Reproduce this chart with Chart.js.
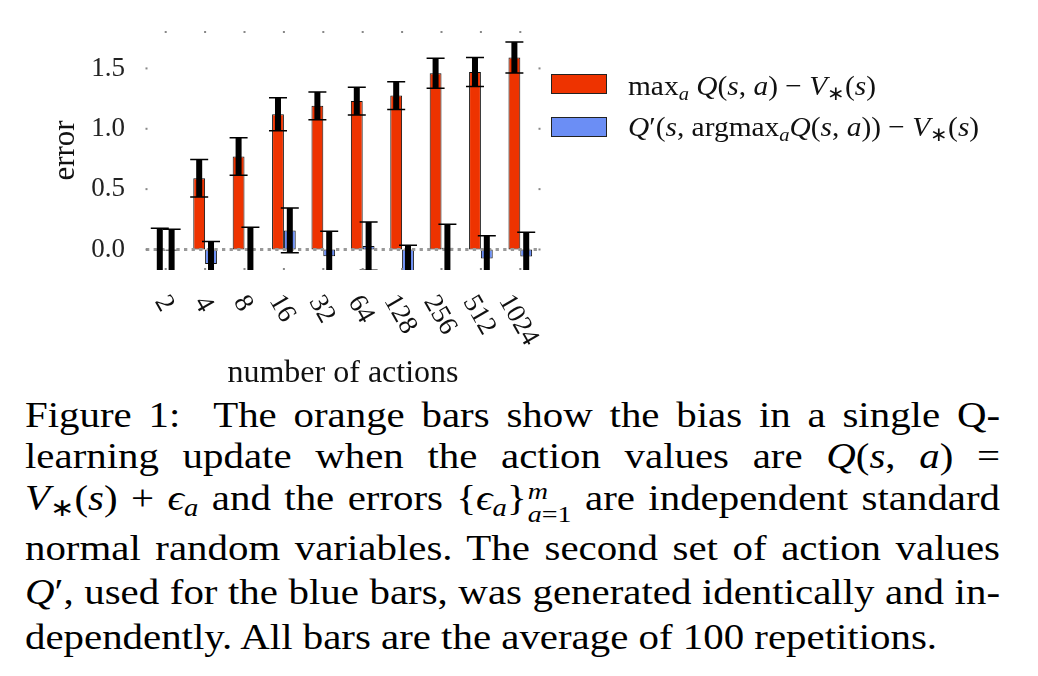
<!DOCTYPE html>
<html>
<head>
<meta charset="utf-8">
<script src="https://cdn.jsdelivr.net/npm/chart.js@4.4.1/dist/chart.umd.min.js"></script>
<style>
  html, body { margin:0; padding:0; background:#fff; width:1038px; height:676px; overflow:hidden; }
  #wrap { position:absolute; left:0; top:0; width:1038px; height:390px; }
  .leg { position:absolute; font-family:"Liberation Serif", serif; font-size:28px; color:#111; white-space:nowrap; line-height:30px; transform:scaleX(1.05); transform-origin:0 0; }
  .legbox { position:absolute; width:54px; height:18px; border:1px solid #222; }
  .cap { position:absolute; left:25px; width:835px; font-family:"Liberation Serif", serif; font-size:35px; line-height:40px; color:#000; white-space:nowrap; transform:scaleX(1.1677); transform-origin:0 0; }
  .just { text-align:justify; text-align-last:justify; white-space:normal; }
  .ss { display:inline-block; vertical-align:-12px; font-size:24px; line-height:23px; text-align:left; margin-left:1px; }
  .ss span { display:block; }
  sub { font-size:0.7em; vertical-align:-0.25em; line-height:0; }
</style>
</head>
<body>
<div id="wrap"><canvas id="c"></canvas></div>
<div id="legend"></div>

<div class="cap just" style="top:396px;">Figure 1:&nbsp; The orange bars show the bias in a single Q-</div>
<div class="cap just" style="top:437px;">learning update when the action values are <i>Q</i>(<i>s</i>, <i>a</i>) =</div>
<div class="cap just" style="top:479px;"><i>V</i><sub>∗</sub>(<i>s</i>) + <i>ϵ</i><sub><i>a</i></sub> and the errors {<i>ϵ</i><sub><i>a</i></sub>}<span class="ss"><span><i>m</i></span><span><i>a</i>=1</span></span> are independent standard</div>
<div class="cap just" style="top:529px;">normal random variables. The second set of action values</div>
<div class="cap just" style="top:573px;"><i>Q</i>′, used for the blue bars, was generated identically and in-</div>
<div class="cap" style="top:618px;">dependently. All bars are the average of 100 repetitions.</div>

<script>
// ---- data ----
const categories = ['2', '4', '8', '16', '32', '64', '128', '256', '512', '1024'];
const seriesNames = ['maxₐ Q(s, a) − V∗(s)', 'Q′(s, argmaxₐQ(s, a)) − V∗(s)'];
const maxQBias   = [-0.01, 0.59, 0.77, 1.12, 1.19, 1.23, 1.275, 1.46, 1.47, 1.59];
const maxQErr    = [0.185, 0.155, 0.155, 0.137, 0.115, 0.115, 0.115, 0.125, 0.12, 0.128];
const doubleBias = [-0.01, -0.12, -0.005, 0.158, -0.056, 0.028, -0.18, 0.015, -0.075, -0.058];
const doubleErr  = [0.177, 0.187, 0.19, 0.186, 0.206, 0.2, 0.215, 0.195, 0.189, 0.2];
const yTicks = [0.0, 0.5, 1.0, 1.5];
const errors = [maxQErr, doubleErr];

const orange = '#EE3300';
const blue = '#6B8EF5';

// HTML legend (math-formatted versions of the series names)
const legendHtml = [
  'max<sub><i>a</i></sub> <i>Q</i>(<i>s</i>, <i>a</i>) − <i>V</i><sub>∗</sub>(<i>s</i>)',
  '<i>Q</i>′(<i>s</i>, argmax<sub><i>a</i></sub><i>Q</i>(<i>s</i>, <i>a</i>)) − <i>V</i><sub>∗</sub>(<i>s</i>)'
];

Chart.defaults.font.family = '"Liberation Serif", serif';
Chart.defaults.color = '#222';

const decorPlugin = {
  id: 'decor',
  afterDatasetsDraw(chart) {
    const {ctx, chartArea: ca, scales: {x, y}} = chart;
    ctx.save();
    ctx.beginPath();
    ctx.rect(ca.left, ca.top, ca.right - ca.left, ca.bottom - ca.top);
    ctx.clip();
    // dotted zero line
    const y0 = y.getPixelForValue(0);
    ctx.strokeStyle = '#999';
    ctx.lineWidth = 3;
    ctx.setLineDash([3.3, 4.3]);
    ctx.beginPath();
    ctx.moveTo(ca.left, y0);
    ctx.lineTo(ca.right, y0);
    ctx.stroke();
    ctx.setLineDash([]);
    // error bars
    chart.data.datasets.forEach((ds, di) => {
      const meta = chart.getDatasetMeta(di);
      meta.data.forEach((bar, i) => {
        const v = ds.data[i], e = errors[di][i];
        const yt = y.getPixelForValue(v + e), yb = y.getPixelForValue(v - e);
        const bx = bar.x;
        ctx.fillStyle = '#000';
        ctx.fillRect(bx - 3, yt, 6, yb - yt);
        ctx.strokeStyle = '#000';
        ctx.lineWidth = 1.5;
        ctx.beginPath();
        ctx.moveTo(bx - 9, yt); ctx.lineTo(bx + 9, yt);
        ctx.moveTo(bx - 9, yb); ctx.lineTo(bx + 9, yb);
        ctx.stroke();
      });
    });
    ctx.restore();
  },
  afterDraw(chart) {
    const {ctx, chartArea: ca, scales: {x, y}} = chart;
    ctx.save();
    // small tick dots
    ctx.fillStyle = '#888';
    y.ticks.forEach((t, i) => {
      const py = y.getPixelForTick(i);
      ctx.fillRect(ca.left - 0.5, py - 1, 2, 2);
      ctx.fillRect(ca.right - 1.5, py - 1, 2, 2);
    });
    categories.forEach((c, i) => {
      const px = x.getPixelForTick(i);
      ctx.fillRect(px - 1, ca.top, 2, 2);
      ctx.fillRect(px - 1, ca.bottom - 2, 2, 2);
    });
    // rotated x tick labels (clockwise, centred under tick)
    const fs = 27;
    ctx.font = fs + 'px "Liberation Serif", serif';
    ctx.fillStyle = '#111';
    const ang = 60 * Math.PI / 180;
    const c = Math.cos(ang), s = Math.sin(ang);
    chart.data.labels.forEach((lab, i) => {
      const px = x.getPixelForTick(i);
      const m = ctx.measureText(lab);
      const w = m.actualBoundingBoxLeft + m.actualBoundingBoxRight;
      const h = m.actualBoundingBoxAscent + m.actualBoundingBoxDescent;
      const bh = w * s + h * c;
      const cy = ca.bottom + 23 + bh / 2;
      ctx.save();
      ctx.translate(px, cy);
      ctx.rotate(ang);
      ctx.textAlign = 'left';
      ctx.textBaseline = 'alphabetic';
      const ox = -(m.actualBoundingBoxRight - m.actualBoundingBoxLeft) / 2;
      const oy = (m.actualBoundingBoxAscent - m.actualBoundingBoxDescent) / 2;
      ctx.fillText(lab, ox, oy);
      ctx.restore();
    });
    ctx.restore();
  }
};

const chart = new Chart(document.getElementById('c'), {
  type: 'bar',
  data: {
    labels: categories,
    datasets: [
      { label: seriesNames[0], data: maxQBias, backgroundColor: orange, borderColor: '#111', borderWidth: 1, borderSkipped: false },
      { label: seriesNames[1], data: doubleBias, backgroundColor: blue, borderColor: '#111', borderWidth: 1, borderSkipped: false }
    ]
  },
  options: {
    responsive: true,
    maintainAspectRatio: false,
    animation: false,
    devicePixelRatio: 1,
    layout: { padding: { left: 0, top: 31, right: 498, bottom: 0 } },
    datasets: { bar: { categoryPercentage: 0.6, barPercentage: 1.0 } },
    plugins: { legend: { display: false }, tooltip: { enabled: false } },
    scales: {
      x: {
        grid: { display: false },
        border: { display: false },
        ticks: { display: false },
        title: { display: true, text: 'number of actions', color: '#111',
                 font: { size: 32, lineHeight: 1.0 }, padding: { top: 0, bottom: 0 } },
        afterFit: (s) => { s.height = 120; s.paddingLeft = 0; s.paddingRight = 0; }
      },
      y: {
        min: -0.17,
        max: 1.81,
        grid: { display: false, drawTicks: false },
        border: { display: false },
        afterBuildTicks: (s) => { s.ticks = yTicks.map(v => ({ value: v })); },
        ticks: { padding: 21, color: '#222', font: { size: 27 },
                 callback: (v) => Number(v).toFixed(1) },
        title: { display: true, text: 'error', color: '#111',
                 font: { size: 31, lineHeight: 1.0 }, padding: { top: 50, bottom: 0 } },
        afterFit: (s) => { s.width = 146; s.paddingTop = 0; s.paddingBottom = 0; }
      }
    }
  },
  plugins: [decorPlugin]
});

// build legend from datasets
const legend = document.getElementById('legend');
chart.data.datasets.forEach((ds, i) => {
  const top = [74, 117][i];
  const box = document.createElement('div');
  box.className = 'legbox';
  box.style.left = '551px';
  box.style.top = top + 'px';
  box.style.background = ds.backgroundColor;
  legend.appendChild(box);
  const t = document.createElement('div');
  t.className = 'leg';
  t.style.left = '628px';
  t.style.top = [71, 112][i] + 'px';
  t.innerHTML = legendHtml[i];
  legend.appendChild(t);
});
</script>
</body>
</html>
